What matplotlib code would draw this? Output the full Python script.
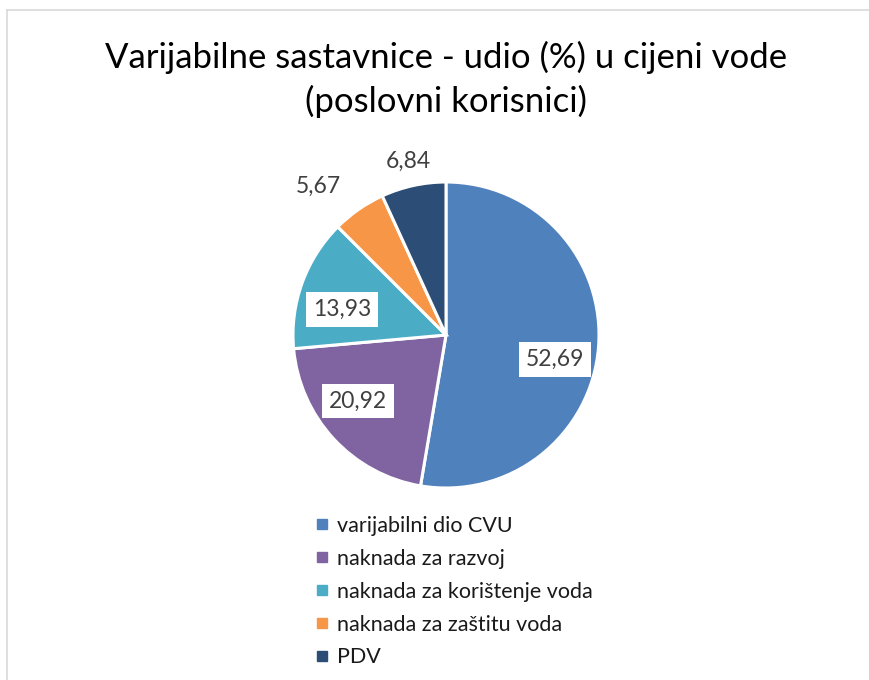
import numpy as np
import matplotlib
matplotlib.use("Agg")
import matplotlib.pyplot as plt
from matplotlib.lines import Line2D

categories = ["varijabilni dio CVU", "naknada za razvoj", "naknada za korištenje voda",
              "naknada za zaštitu voda", "PDV"]
values = [52.69, 20.92, 13.93, 5.67, 6.84]
value_labels = ["52,69", "20,92", "13,93", "5,67", "6,84"]
colors = ["#4F81BD", "#8064A2", "#4BACC6", "#F79646", "#2C4D75"]

# label placement (radius fraction, angle shift in deg, boxed)
label_r = [0.73, 0.72, 0.70, 1.28, 1.16]
label_shift = [-8, -6, 6, 6, 0]
label_box = [True, True, True, False, False]

plt.rcParams['font.family'] = ['Lato', 'DejaVu Sans']

W, H = 870, 680
fig = plt.figure(figsize=(W / 100, H / 100), dpi=100)
ax = fig.add_axes([0, 0, 1, 1])

cx, cy, R = 446, H - 335, 153
wedges, _ = ax.pie(values, colors=colors, startangle=90, counterclock=False,
                   center=(cx, cy), radius=R, frame=True,
                   wedgeprops=dict(edgecolor="white", linewidth=2.2))
ax.set_xlim(0, W)
ax.set_ylim(0, H)
ax.axis("off")

for w, lab, rf, sh, box in zip(wedges, value_labels, label_r, label_shift, label_box):
    ang = np.deg2rad((w.theta1 + w.theta2) / 2 + sh)
    x = cx + rf * R * np.cos(ang)
    y = cy + rf * R * np.sin(ang)
    bbox = dict(facecolor="white", edgecolor="none", pad=5) if box else None
    ax.text(x, y, lab, ha="center", va="center", fontsize=16.5, color="#404040", bbox=bbox)

fig.text(446 / W, 1 - 79 / H, "Varijabilne sastavnice - udio (%) u cijeni vode\n(poslovni korisnici)",
         ha="center", va="center", fontsize=25, color="#000000", linespacing=1.4)

handles = [Line2D([], [], marker="s", linestyle="none", markersize=7, color=c) for c in colors]
fig.legend(handles, categories, loc="upper left", bbox_to_anchor=(305 / W, 1 - 505 / H),
           frameon=False, fontsize=15.5, handlelength=0.6, handletextpad=0.4,
           labelspacing=0.6, borderpad=0, labelcolor="#1a1a1a")

# chart area border
fig.add_artist(Line2D([7 / W, 1], [1 - 10 / H, 1 - 10 / H], color="#D9D9D9", lw=1.2))
fig.add_artist(Line2D([7 / W, 7 / W], [0, 1 - 10 / H], color="#D9D9D9", lw=1.2))

fig.savefig("out.png", dpi=100)
